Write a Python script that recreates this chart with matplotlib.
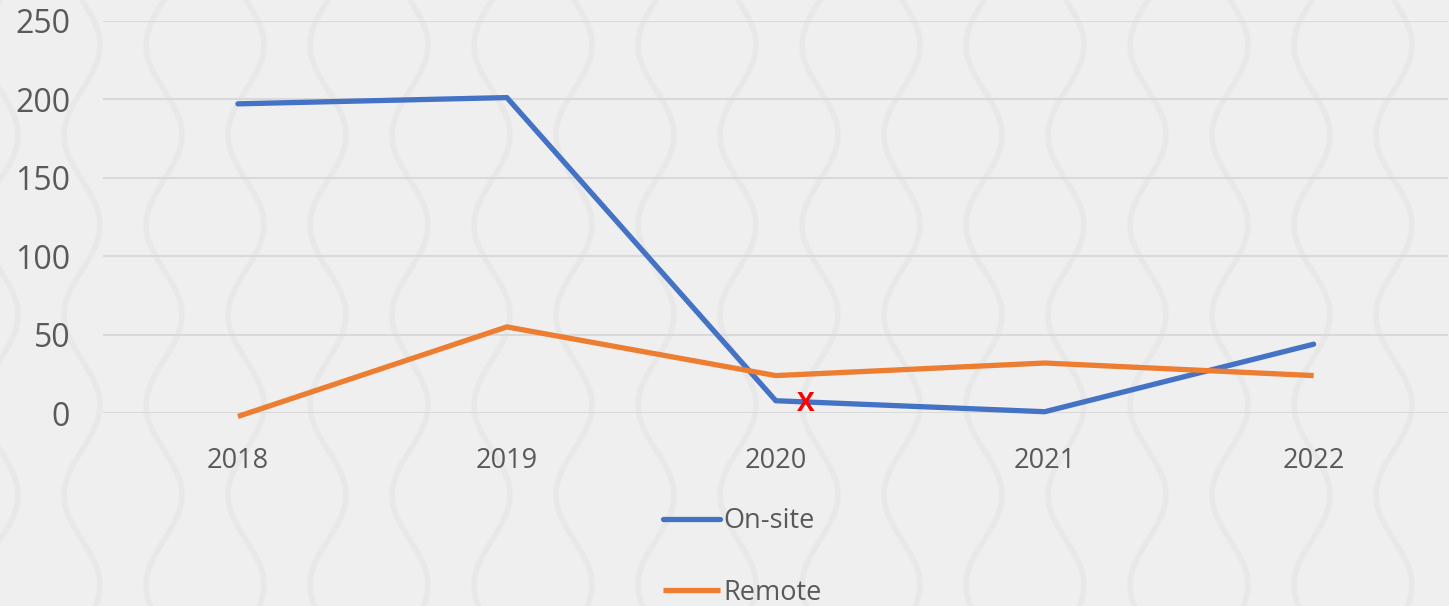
import matplotlib.pyplot as plt
import numpy as np
from matplotlib.lines import Line2D

years = ['2018', '2019', '2020', '2021', '2022']
on_site = [197, 201, 8, 1, 44]
remote = [-2, 55, 24, 32, 24]
y_ticks = [0, 50, 100, 150, 200, 250]

BLUE = '#4472C4'
ORANGE = '#ED7D31'
BG = '#efefef'

plt.rcParams['font.family'] = ['Open Sans', 'DejaVu Sans']

fig = plt.figure(figsize=(14.49, 6.06), dpi=100)
fig.patch.set_facecolor(BG)

# faint wavy texture in the background, like the slide
bg_ax = fig.add_axes([0, 0, 1, 1], zorder=-5)
bg_ax.set_xlim(0, 1449)
bg_ax.set_ylim(606, 0)
bg_ax.axis('off')
yy = np.linspace(-50, 660, 500)
for k, c in enumerate(np.arange(-82, 1449 + 164, 82)):
    sign = 1 if k % 2 == 0 else -1
    bg_ax.plot(c + sign * 18 * np.sin(2 * np.pi * yy / 180), yy,
               color='#e8e8e8', lw=4)

ax = fig.add_axes([0.0714, 0.318, 0.928, 0.648])
ax.set_facecolor('none')
x = np.arange(len(years))

ax.plot(x, on_site, color=BLUE, lw=3.8, solid_capstyle='round', clip_on=False, zorder=3)
ax.plot(x, remote, color=ORANGE, lw=3.8, solid_capstyle='butt', clip_on=False, zorder=3)

# red marker text near 2020
ax.text(2.11, 6, 'X', color='#ff0000', fontsize=19, fontweight='bold',
        ha='center', va='center', zorder=4)

ax.set_xlim(-0.5, len(years) - 0.5)
ax.set_ylim(0, 250)
ax.set_yticks(y_ticks)
ax.set_yticklabels([str(v) for v in y_ticks], fontsize=23, color='#595959')
ax.set_xticks(x)
ax.set_xticklabels(years, fontsize=19.5, color='#595959')
ax.tick_params(axis='y', length=0, pad=24)
ax.tick_params(axis='x', length=0, pad=24)
ax.grid(axis='y', color='#d9d9d9', lw=1.5)
ax.set_axisbelow(True)
for s in ax.spines.values():
    s.set_visible(False)

handles = [Line2D([], [], color=BLUE, lw=3.8, solid_capstyle='round'),
           Line2D([], [], color=ORANGE, lw=3.8, solid_capstyle='butt')]
fig.legend(handles, ['On-site', 'Remote'], loc='upper left',
           bbox_to_anchor=(663 / 1449, 1 - 507 / 606), frameon=False,
           fontsize=19.5, labelcolor='#595959', handlelength=2.1,
           handletextpad=0.12, labelspacing=1.62, borderpad=0, borderaxespad=0)

fig.savefig('out.png', dpi=100, facecolor=BG)
